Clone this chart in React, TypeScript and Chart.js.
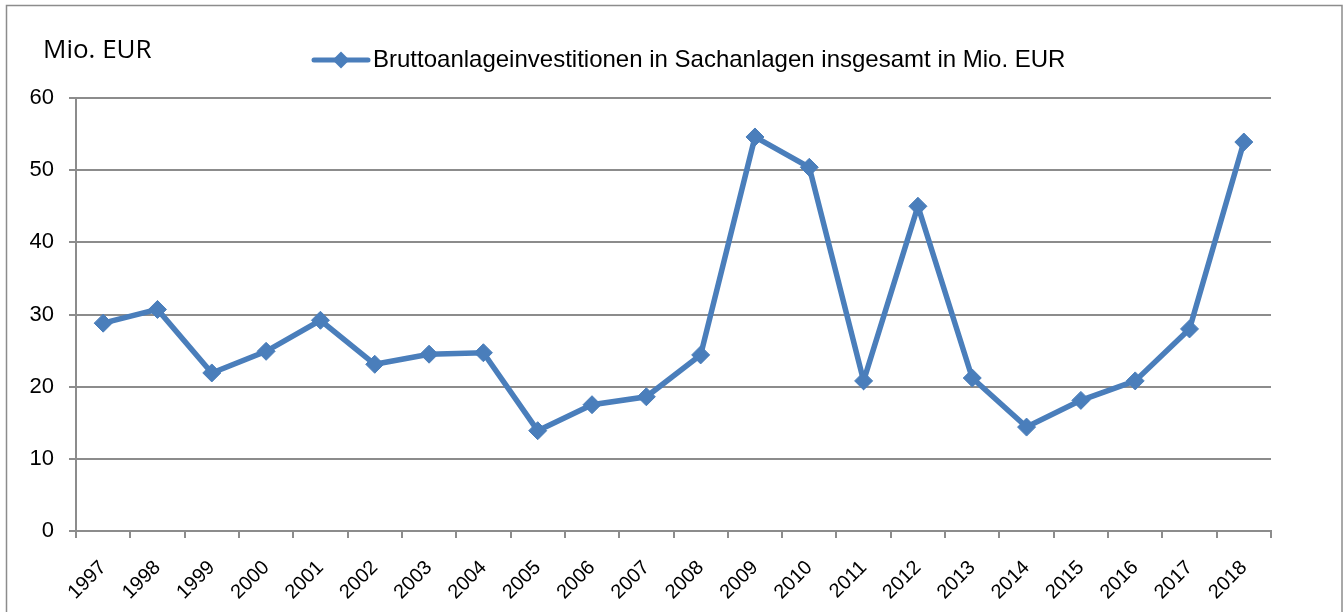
import React, { useEffect, useRef } from "react";
import { Chart, registerables } from "chart.js";

Chart.register(...registerables);

const years = [
  "1997", "1998", "1999", "2000", "2001", "2002", "2003", "2004", "2005", "2006", "2007",
  "2008", "2009", "2010", "2011", "2012", "2013", "2014", "2015", "2016", "2017", "2018",
];
const investments = [
  28.8, 30.7, 21.9, 24.9, 29.2, 23.1, 24.5, 24.7, 13.9, 17.5, 18.6,
  24.4, 54.6, 50.4, 20.8, 45.0, 21.2, 14.4, 18.1, 20.8, 28.0, 53.9,
];
const seriesLabel = "Bruttoanlageinvestitionen in Sachanlagen insgesamt in Mio. EUR";
const unitLabel = "Mio. EUR";

const BLUE = "#4A7EBB";
const GRAY = "#8C8C8C";

export default function App() {
  const ref = useRef<HTMLCanvasElement | null>(null);

  useEffect(() => {
    if (!ref.current) return;
    const framePlugin = {
      id: "frameAndLegend",
      beforeDraw(chart: any) {
        const ctx = chart.ctx;
        ctx.save();
        ctx.fillStyle = "#fff";
        ctx.fillRect(0, 0, chart.width, chart.height);
        ctx.strokeStyle = GRAY;
        ctx.lineWidth = 1.5;
        ctx.strokeRect(6.5, 5.5, 1335.5, 640);
        ctx.restore();
      },
      afterDraw(chart: any) {
        const ctx = chart.ctx;
        ctx.save();
        // unit label
        ctx.fillStyle = "#000";
        ctx.font = "26px 'Open Sans'";
        ctx.textBaseline = "alphabetic";
        ctx.textAlign = "left";
        ctx.fillText(unitLabel, 43, 58);
        // legend
        const ly = 60;
        ctx.strokeStyle = BLUE;
        ctx.lineWidth = 5;
        ctx.lineCap = "round";
        ctx.beginPath();
        ctx.moveTo(314, ly);
        ctx.lineTo(368, ly);
        ctx.stroke();
        ctx.fillStyle = BLUE;
        ctx.beginPath();
        const cx = 341, r = 8.5;
        ctx.moveTo(cx, ly - r);
        ctx.lineTo(cx + r, ly);
        ctx.lineTo(cx, ly + r);
        ctx.lineTo(cx - r, ly);
        ctx.closePath();
        ctx.fill();
        ctx.fillStyle = "#000";
        ctx.font = "24px 'Liberation Sans'";
        ctx.textBaseline = "middle";
        ctx.fillText(chart.data.datasets[0].label, 373, ly);
        ctx.restore();
      },
    };

    const chart = new Chart(ref.current, {
      type: "line",
      data: {
        labels: years,
        datasets: [
          {
            label: seriesLabel,
            data: investments,
            borderColor: BLUE,
            backgroundColor: BLUE,
            borderWidth: 5.5,
            pointStyle: "rectRot",
            pointRadius: 9,
            pointBackgroundColor: BLUE,
            pointBorderColor: BLUE,
            pointBorderWidth: 1,
            tension: 0,
          },
        ],
      },
      options: {
        responsive: false,
        animation: false,
        layout: { padding: { top: 98, right: 72, left: 0, bottom: 0 } },
        plugins: {
          legend: { display: false },
          tooltip: { enabled: false },
          title: { display: false },
        },
        scales: {
          x: {
            type: "category",
            offset: true,
            grid: {
              display: true,
              drawOnChartArea: false,
              drawTicks: true,
              tickLength: 7,
              color: GRAY,
              lineWidth: 2,
              offset: true,
            },
            border: { display: true, color: GRAY, width: 2 },
            ticks: {
              minRotation: 45,
              maxRotation: 45,
              autoSkip: false,
              color: "#000",
              padding: 18,
              font: { size: 20, family: "'Liberation Sans', Arial, sans-serif" },
            },
            afterFit: (s: any) => {
              s.height = 81;
            },
          },
          y: {
            min: 0,
            max: 60,
            ticks: {
              stepSize: 10,
              color: "#000",
              padding: 15,
              font: { size: 22, family: "'Liberation Sans', Arial, sans-serif" },
            },
            grid: {
              color: GRAY,
              lineWidth: 2,
              tickLength: 7,
              drawTicks: true,
            },
            border: { display: true, color: GRAY, width: 2 },
            afterFit: (s: any) => {
              s.width = 76;
            },
          },
        },
      },
      plugins: [framePlugin],
    });
    return () => chart.destroy();
  }, []);

  return (
    <div style={{ position: "absolute", left: 0, top: 0, width: 1343, height: 612 }}>
      <canvas ref={ref} width={1343} height={612} />
    </div>
  );
}
